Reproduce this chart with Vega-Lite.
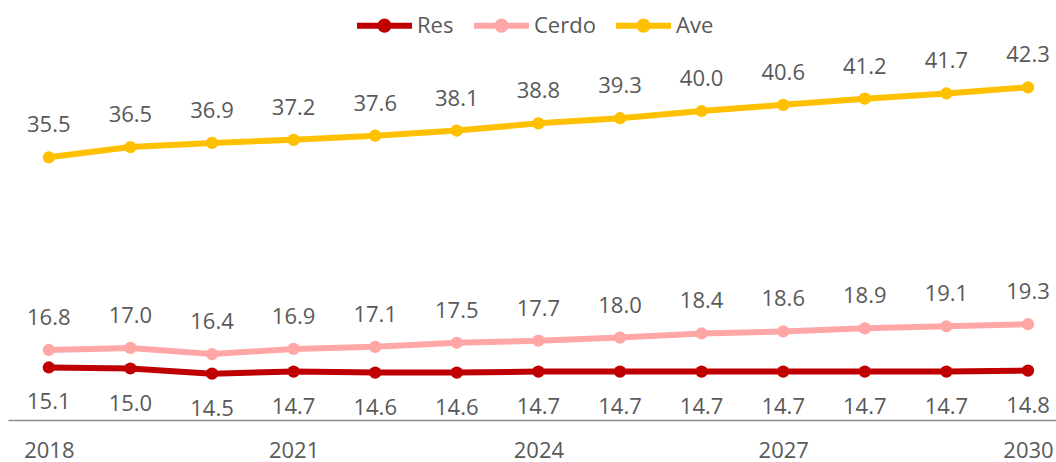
{
  "$schema": "https://vega.github.io/schema/vega-lite/v6.json",
  "width": 1048,
  "height": 412,
  "autosize": {"type": "none"},
  "padding": {"left": 8, "top": 8, "right": 0, "bottom": 42},
  "background": "white",
  "data": {
    "values": [
      {"year": 2018, "serie": "Res", "value": 15.1},
      {"year": 2019, "serie": "Res", "value": 15.0},
      {"year": 2020, "serie": "Res", "value": 14.5},
      {"year": 2021, "serie": "Res", "value": 14.7},
      {"year": 2022, "serie": "Res", "value": 14.6},
      {"year": 2023, "serie": "Res", "value": 14.6},
      {"year": 2024, "serie": "Res", "value": 14.7},
      {"year": 2025, "serie": "Res", "value": 14.7},
      {"year": 2026, "serie": "Res", "value": 14.7},
      {"year": 2027, "serie": "Res", "value": 14.7},
      {"year": 2028, "serie": "Res", "value": 14.7},
      {"year": 2029, "serie": "Res", "value": 14.7},
      {"year": 2030, "serie": "Res", "value": 14.8},
      {"year": 2018, "serie": "Cerdo", "value": 16.8},
      {"year": 2019, "serie": "Cerdo", "value": 17.0},
      {"year": 2020, "serie": "Cerdo", "value": 16.4},
      {"year": 2021, "serie": "Cerdo", "value": 16.9},
      {"year": 2022, "serie": "Cerdo", "value": 17.1},
      {"year": 2023, "serie": "Cerdo", "value": 17.5},
      {"year": 2024, "serie": "Cerdo", "value": 17.7},
      {"year": 2025, "serie": "Cerdo", "value": 18.0},
      {"year": 2026, "serie": "Cerdo", "value": 18.4},
      {"year": 2027, "serie": "Cerdo", "value": 18.6},
      {"year": 2028, "serie": "Cerdo", "value": 18.9},
      {"year": 2029, "serie": "Cerdo", "value": 19.1},
      {"year": 2030, "serie": "Cerdo", "value": 19.3},
      {"year": 2018, "serie": "Ave", "value": 35.5},
      {"year": 2019, "serie": "Ave", "value": 36.5},
      {"year": 2020, "serie": "Ave", "value": 36.9},
      {"year": 2021, "serie": "Ave", "value": 37.2},
      {"year": 2022, "serie": "Ave", "value": 37.6},
      {"year": 2023, "serie": "Ave", "value": 38.1},
      {"year": 2024, "serie": "Ave", "value": 38.8},
      {"year": 2025, "serie": "Ave", "value": 39.3},
      {"year": 2026, "serie": "Ave", "value": 40.0},
      {"year": 2027, "serie": "Ave", "value": 40.6},
      {"year": 2028, "serie": "Ave", "value": 41.2},
      {"year": 2029, "serie": "Ave", "value": 41.7},
      {"year": 2030, "serie": "Ave", "value": 42.3}
    ]
  },
  "encoding": {
    "x": {
      "field": "year",
      "type": "quantitative",
      "scale": {"domain": [2017.5, 2030.343], "nice": false, "zero": false},
      "axis": {
        "title": null,
        "values": [2018, 2021, 2024, 2027, 2030],
        "format": "d",
        "grid": false,
        "ticks": false,
        "tickSize": 0,
        "labelPadding": 30,
        "labelBaseline": "middle",
        "labelFlush": false,
        "labelOverlap": false,
        "labelFont": "Open Sans",
        "labelFontSize": 22,
        "labelColor": "#595959",
        "domainColor": "#8c8c8c",
        "domainWidth": 1.5
      }
    },
    "y": {
      "field": "value",
      "type": "quantitative",
      "scale": {"domain": [10, 50], "nice": false, "zero": false},
      "axis": null
    }
  },
  "layer": [
    {
      "mark": {"type": "line", "strokeWidth": 6, "point": {"filled": true, "size": 150}},
      "encoding": {
        "color": {
          "field": "serie",
          "type": "nominal",
          "sort": ["Res", "Cerdo", "Ave"],
          "scale": {"domain": ["Res", "Cerdo", "Ave"], "range": ["#C00000", "#FFA7A7", "#FFC000"]},
          "legend": {
            "title": null,
            "orient": "none",
            "direction": "horizontal",
            "legendX": 346,
            "legendY": -13,
            "symbolType": "M-1,0H1M-0.15,0A0.15,0.15,0,1,1,0.15,0A0.15,0.15,0,1,1,-0.15,0Z",
            "symbolSize": 3025,
            "symbolStrokeWidth": 6,
            "labelFont": "Open Sans",
            "labelFontSize": 22,
            "labelColor": "#595959",
            "labelOffset": 2,
            "columnPadding": 8,
            "padding": 0,
            "encode": {
              "symbols": {
                "update": {
                  "fill": {"scale": "color", "field": "value"},
                  "fillOpacity": {"value": 1},
                  "stroke": {"scale": "color", "field": "value"},
                  "strokeWidth": {"value": 6}
                }
              }
            }
          }
        }
      }
    },
    {
      "transform": [{"filter": "datum.serie !== 'Res'"}],
      "mark": {"type": "text", "dy": -32, "font": "Open Sans", "fontSize": 22, "color": "#595959", "baseline": "middle", "align": "center"},
      "encoding": {"text": {"field": "value", "type": "quantitative", "format": ".1f"}}
    },
    {
      "transform": [{"filter": "datum.serie === 'Res'"}],
      "mark": {"type": "text", "dy": 35, "font": "Open Sans", "fontSize": 22, "color": "#595959", "baseline": "middle", "align": "center"},
      "encoding": {"text": {"field": "value", "type": "quantitative", "format": ".1f"}}
    }
  ],
  "config": {"view": {"stroke": null}}
}
